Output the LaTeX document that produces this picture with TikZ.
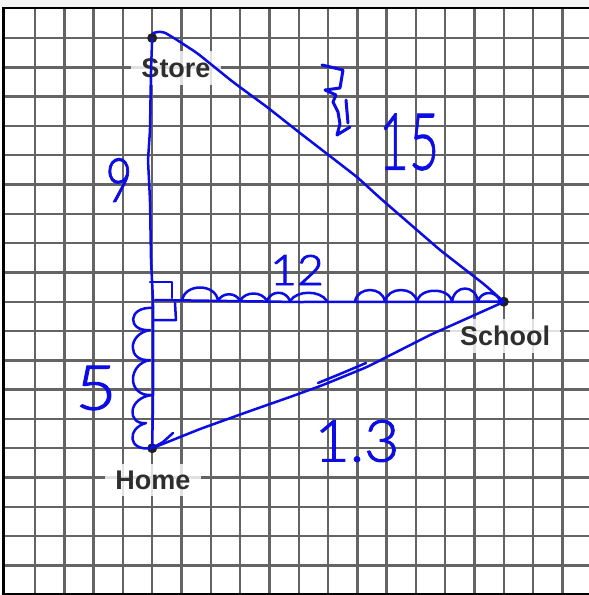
\documentclass[tikz,border=0pt]{standalone}
\usepackage{fontspec}
\setmainfont{Liberation Sans}
\newfontfamily\hand{Lato Light}
\definecolor{ink}{RGB}{12,12,228}
\definecolor{gridc}{RGB}{100,100,100}
\newcommand{\thick}[1]{\special{pdf:literal direct 2 Tr 0.9 w}#1\special{pdf:literal direct 0 Tr}}
\tikzset{
  gridline/.style={draw=gridc, line width=2.4pt},
  pen/.style={draw=ink, line width=2.5pt, line cap=round, line join=round},
  dot/.style={circle, fill=black!88, inner sep=0pt, minimum size=10pt},
  place/.style={font=\bfseries\fontsize{27}{27}\selectfont, text=black!82,
    fill=white, fill opacity=0.8, text opacity=1, inner xsep=10pt, inner ysep=7pt},
  hw/.style={text=ink, inner sep=0pt},
}
\begin{document}
\begin{tikzpicture}[x=1pt,y=-1pt]
\useasboundingbox (0,0) rectangle (589,595);
\clip (0,0) rectangle (589,595);
\fill[gray!8] (0,0) rectangle (589,8);
\fill[white] (4,8) rectangle (589,595);
% grid
\foreach \k in {0,...,19} {\draw[gridline] ({35+29.3*\k},8) -- ({35+29.3*\k},595);}
\foreach \k in {0,...,18} {\draw[gridline] (4,{38+29.3*\k}) -- (589,{38+29.3*\k});}
% frame
\draw[black, line width=3.6pt] (3.5,7) -- (3.5,595);
\draw[black, line width=2.4pt] (2,8) -- (589,8);
\draw[black, line width=2.2pt] (2,594) -- (589,594);
% places
\node[dot] (store) at (152.2,38) {};
\node[dot] (home) at (152.2,448.2) {};
\node[dot] (school) at (503.8,301.7) {};
\node[place] (storelbl) at (176,68) {Store};
\node[place] (homelbl) at (153,480) {Home};
\node[place] (schoollbl) at (505,336) {School};
% hand-drawn connectors
\coordinate (corner) at (153,300);
\draw[pen, rounded corners=5pt] (store.center) -- (151,70) -- (150,130) -- (148,160) -- (150,200) -- (151,260) -- (corner) -- (153,345) -- (153,400) -- (home.center);
\draw[pen, rounded corners=5pt] (153,33) -- (162,31) -- (174,38) -- (197,53) -- (233,82) -- (267,107) -- (300,133) -- (357,177) -- (380,198) -- (440,250) -- (485,285) -- (school.center);
\draw[pen, rounded corners=5pt] (home.center) -- (200,429) -- (250,411) -- (290,397) -- (323,385) -- (367,367) -- (430,335) -- (497,305) -- (school.center);
\draw[pen] (318,383) -- (340,374) -- (366,363);
\draw[pen] (home.center) -- (163,442) -- (173,433);
\draw[pen] (155,300) -- (300,302) -- (school.center);
% right angle mark
\draw[pen] (150,282) -- (172,282) -- (172,298);
\draw[pen] (175,303) -- (176,320) -- (154,320);
% counting humps along 12
\draw[pen] (182,301) .. controls (184,283) and (216,283) .. (218,301)
  .. controls (222,292) and (236,292) .. (240,301)
  .. controls (245,291) and (262,291) .. (267,301)
  .. controls (271,290) and (286,290) .. (290,301)
  .. controls (297,290) and (320,290) .. (327,301);
\draw[pen] (355,302) .. controls (357,286) and (383,286) .. (385,302)
  .. controls (387,286) and (415,286) .. (417,302)
  .. controls (419,287) and (450,287) .. (452,302)
  .. controls (454,284) and (476,284) .. (478,302)
  .. controls (480,290) and (498,290) .. (500,302);
% counting humps along 5
\draw[pen] (153,308) .. controls (127,306) and (127,332) .. (150,330)
  .. controls (127,334) and (127,362) .. (150,360)
  .. controls (127,364) and (127,397) .. (152,395)
  .. controls (127,398) and (127,425) .. (146,423)
  .. controls (127,428) and (127,452) .. (152,448);
% scribbled 3
\draw[pen, line width=3pt] (322,65) -- (343,70) -- (340,88) -- (325,90) -- (336,95) -- (333,102) -- (338,112) -- (340,124) -- (337,135) -- (350,127);
\draw[pen, line width=3pt] (346,100) -- (348,123);
% hand-written lengths
\node[hw, font=\hand\fontsize{61}{61}\selectfont] (l9) at (119,180) {\scalebox{0.75}[1]{\thick{9}}};
\node[hw, font=\hand\fontsize{79}{79}\selectfont] (l15) at (409,142) {\scalebox{0.66}[1]{\thick{15}}};
\node[hw, font=\hand\fontsize{42}{42}\selectfont] (l12) at (297,270) {\scalebox{1.1}[1]{\thick{12}}};
\node[hw, font=\hand\fontsize{62}{62}\selectfont] (l5) at (96,388) {\scalebox{1.15}[1]{\thick{5}}};
\node[hw, font=\hand\fontsize{58}{58}\selectfont] (l13) at (357,441) {\scalebox{1.05}[1]{\thick{1.3}}};
\end{tikzpicture}
\end{document}
